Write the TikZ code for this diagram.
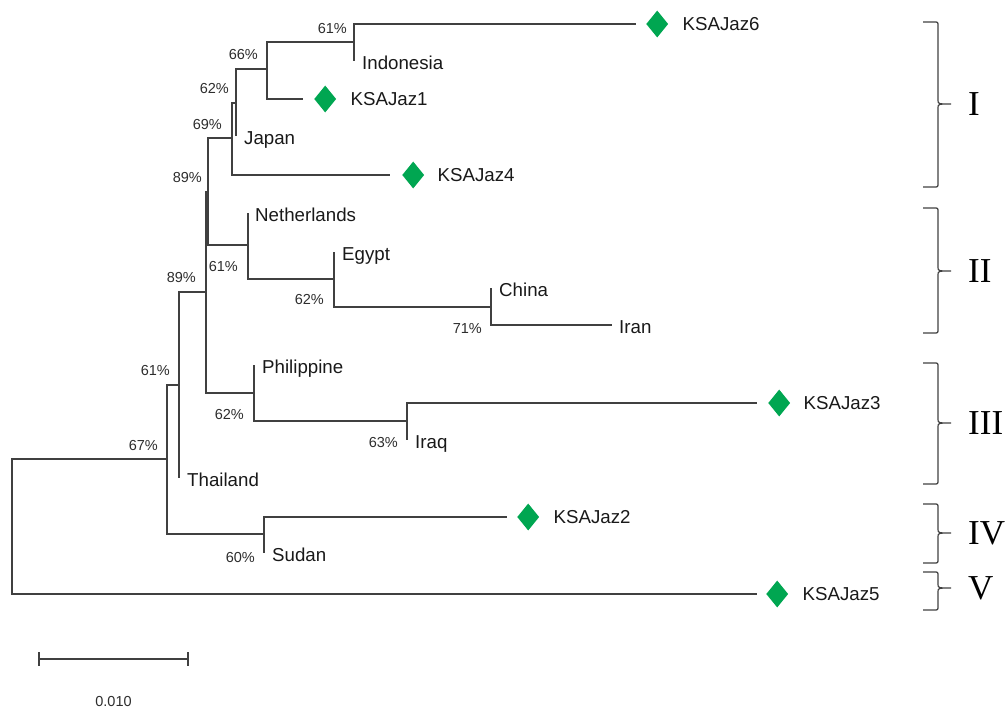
\documentclass[tikz,border=0pt]{standalone}
\usepackage{fontspec}
\setmainfont{Liberation Sans}
\newfontfamily\cladefont{Liberation Serif}
\usetikzlibrary{positioning}
\usetikzlibrary{shapes.geometric}

\definecolor{branchgray}{RGB}{64,64,64}
\definecolor{jazgreen}{RGB}{0,166,81}
\definecolor{labelgray}{RGB}{45,45,45}

\tikzset{
	branch/.style={draw=branchgray, line width=1.4pt},
	leaf/.style={inner sep=0pt, text height=13.4pt, text depth=0pt, text=black!90, font=\fontsize{18.7}{20}\selectfont},
	tiplab/.style={leaf, yshift=-2pt},
	pct/.style={inner sep=0pt, text height=10.4pt, text depth=0pt, text=labelgray, font=\fontsize{14.5}{16}\selectfont},
	gem/.style={diamond, fill=jazgreen, inner sep=0pt, minimum width=22pt, minimum height=27pt},
	cladebrace/.style={draw=branchgray, line width=1.2pt},
	clade/.style={inner sep=0pt, text height=23.2pt, text depth=0pt, font=\cladefont\fontsize{35}{36}\selectfont}
}

\begin{document}
\begin{tikzpicture}[x=1pt, y=-1pt]
				\useasboundingbox (0,0) rectangle (1005,710);
				\coordinate (root) at (12,526);
				\coordinate (n67) at (167,459);
				\coordinate (n61a) at (179,385);
				\coordinate (n89b) at (206,292);
				\coordinate (n89a) at (208,192);
				\coordinate (n69) at (232,138);
				\coordinate (n62a) at (236,103);
				\coordinate (n66) at (267,69);
				\coordinate (n61b) at (354,42);
				\coordinate (n61c) at (248,245);
				\coordinate (n62b) at (334,279);
				\coordinate (n71) at (491,307);
				\coordinate (n62c) at (254,393);
				\coordinate (n63) at (407,421);
				\coordinate (n60) at (264,534);
				\coordinate (k6) at (636,24);
				\coordinate (indo) at (354,61);
				\coordinate (k1) at (303,99);
				\coordinate (jp) at (236,136);
				\coordinate (k4) at (390,175);
				\coordinate (nl) at (248,213);
				\coordinate (eg) at (334,252);
				\coordinate (cn) at (491,288);
				\coordinate (ir) at (612,325);
				\coordinate (ph) at (254,365);
				\coordinate (k3) at (757,403);
				\coordinate (iq) at (407,440);
				\coordinate (th) at (179,478);
				\coordinate (k2) at (507,517);
				\coordinate (sd) at (264,553);
				\coordinate (k5) at (757,594);
				\foreach \p/\c in {root/n67, root/k5, n67/n61a, n67/n60, n61a/n89b, n61a/th, n89b/n89a, n89b/n62c, n89a/n69, n89a/n61c, n69/n62a, n69/k4, n62a/n66, n62a/jp, n66/n61b, n66/k1, n61b/k6, n61b/indo, n61c/nl, n61c/n62b, n62b/eg, n62b/n71, n71/cn, n71/ir, n62c/ph, n62c/n63, n63/k3, n63/iq, n60/k2, n60/sd}
					\draw[branch] (\p) |- (\c);
				\node[tiplab, right=8pt of indo] (indolab) {Indonesia};
				\node[tiplab, right=8pt of jp] (jplab) {Japan};
				\node[tiplab, right=7pt of nl] (nllab) {Netherlands};
				\node[tiplab, right=8pt of eg] (eglab) {Egypt};
				\node[tiplab, right=8pt of cn] (cnlab) {China};
				\node[tiplab, right=7pt of ir] (irlab) {Iran};
				\node[tiplab, right=8pt of ph] (phlab) {Philippine};
				\node[tiplab, right=8pt of iq] (iqlab) {Iraq};
				\node[tiplab, right=8pt of th] (thlab) {Thailand};
				\node[tiplab, right=8pt of sd] (sdlab) {Sudan};
				\node[gem, right=10pt of k6] (g6) {};
				\node[gem, right=11pt of k1] (g1) {};
				\node[gem, right=12pt of k4] (g4) {};
				\node[gem, right=11pt of k3] (g3) {};
				\node[gem, right=10pt of k2] (g2) {};
				\node[gem, right=9pt of k5] (g5) {};
				\node[leaf, right=14pt of g6] (k6lab) {KSAJaz6};
				\node[leaf, right=14pt of g1] (k1lab) {KSAJaz1};
				\node[leaf, right=13pt of g4] (k4lab) {KSAJaz4};
				\node[leaf, right=13pt of g3] (k3lab) {KSAJaz3};
				\node[leaf, right=14pt of g2] (k2lab) {KSAJaz2};
				\node[leaf, right=14pt of g5] (k5lab) {KSAJaz5};
				\node[pct, above left=8.6pt and 7pt of n61b] (p61b) {61\%};
				\node[pct, above left=9.6pt and 9pt of n66] (p66) {66\%};
				\node[pct, above left=9.6pt and 7pt of n62a] (p62a) {62\%};
				\node[pct, above left=8.6pt and 10pt of n69] (p69) {69\%};
				\node[pct, above left=9.6pt and 6pt of n89a] (p89a) {89\%};
				\node[pct, above left=9.6pt and 10pt of n89b] (p89b) {89\%};
				\node[pct, above left=9.6pt and 9pt of n61a] (p61a) {61\%};
				\node[pct, above left=8.6pt and 9pt of n67] (p67) {67\%};
				\node[pct, below left=15.6pt and 10pt of n61c] (p61c) {61\%};
				\node[pct, below left=14.6pt and 10pt of n62b] (p62b) {62\%};
				\node[pct, below left=15.6pt and 9pt of n71] (p71) {71\%};
				\node[pct, below left=15.6pt and 10pt of n62c] (p62c) {62\%};
				\node[pct, below left=15.6pt and 9pt of n63] (p63) {63\%};
				\node[pct, below left=17.6pt and 9pt of n60] (p60) {60\%};
				\coordinate (sbl) at (39,659);
				\coordinate (sbr) at (188,659);
				\draw[branch] (sbl) -- (sbr) node[pct, midway, below=36pt] (sblab) {0.010};
				\draw[branch] (sbl) ++(0,-7) -- ++(0,14);
				\draw[branch] (sbr) ++(0,-7) -- ++(0,14);
				\foreach \ytop/\ymid/\ybot/\lab in {22/104/187/I, 208/271/333/II, 363/423/484/III, 504/533/563/IV, 572/588/610/V}{
					\draw[cladebrace] (923,\ytop) -- (934,\ytop) .. controls (938,\ytop) .. (938,\ytop+4) -- (938,\ymid-4) .. controls (938,\ymid) .. (951,\ymid) .. controls (938,\ymid) .. (938,\ymid+4) -- (938,\ybot-4) .. controls (938,\ybot) .. (934,\ybot) -- (923,\ybot);
					\coordinate (tip\lab) at (951,\ymid);
					\node[clade, right=17pt of tip\lab] (clade\lab) {\lab};
				}
			\end{tikzpicture}
\end{document}
